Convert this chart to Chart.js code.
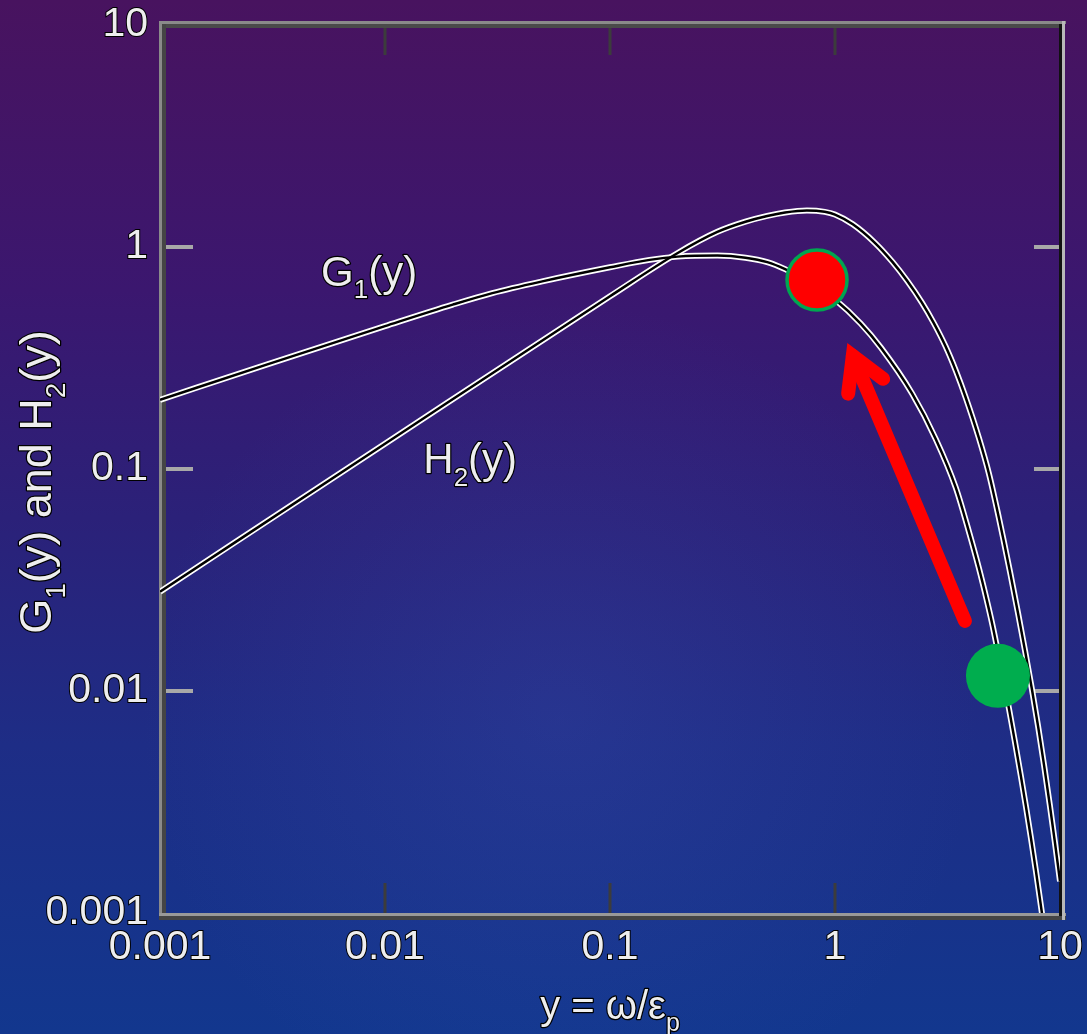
<!DOCTYPE html>
<html>
<head>
<meta charset="utf-8">
<script src="https://cdn.jsdelivr.net/npm/chart.js@4.4.1/dist/chart.umd.min.js"></script>
<style>
  html, body { margin: 0; padding: 0; width: 1087px; height: 1034px; overflow: hidden; background: #2a2178; }
  #c { display: block; }
</style>
</head>
<body>
<canvas id="c" width="1087" height="1034"></canvas>
<script>
// Axis decades
const xTickValues = [0.001, 0.01, 0.1, 1, 10];
const yTickValues = [0.001, 0.01, 0.1, 1, 10];

// G1(y)
const g1X = [0.001, 0.003, 0.01, 0.02, 0.03, 0.05, 0.1, 0.15, 0.2, 0.3, 0.4, 0.5, 0.6, 0.8, 1.0,
             1.3, 1.6, 2.2, 2.8, 3.44, 3.94, 4.36, 4.73, 5.0, 5.5, 5.93, 6.3, 6.7, 7.06, 7.43, 7.82, 8.3, 9.0, 10];
const g1Y = [0.205, 0.296, 0.44, 0.55, 0.62, 0.70, 0.81, 0.875, 0.905, 0.915, 0.895, 0.855, 0.795, 0.68, 0.58,
             0.452, 0.352, 0.219, 0.137, 0.0826, 0.0521, 0.0358, 0.0256, 0.0200, 0.0124, 0.00834, 0.00594, 0.00414, 0.00301, 0.00217, 0.00154, 0.00101, 0.000545, 0.000232];

// H2(y)
const h2X = [0.001, 0.01, 0.1, 0.2, 0.3, 0.4, 0.5, 0.6, 0.75, 0.9, 1.0, 1.2, 1.5, 1.8, 2.1, 2.43, 2.75,
             3.1, 3.45, 3.81, 4.36, 4.83, 5.35, 5.63, 6.0, 6.5, 7.0, 7.5, 8.0, 8.5, 9.0, 9.5, 10];
const h2Y = [0.028, 0.13, 0.60, 0.94, 1.17, 1.30, 1.38, 1.43, 1.46, 1.44, 1.40, 1.265, 1.047, 0.857, 0.701, 0.563, 0.454,
             0.357, 0.276, 0.210, 0.138, 0.0955, 0.0603, 0.0471, 0.0343, 0.0226, 0.0151, 0.0102, 0.00689, 0.00461, 0.00309, 0.00207, 0.00139];

// Highlighted points and the arrow between them
const peakPoint = [{ x: 0.832, y: 0.71 }];
const tailPoint = [{ x: 5.30, y: 0.0117 }];
const arrowFrom = { x: 3.78, y: 0.0207 };
const arrowTo = { x: 1.20, y: 0.323 };

const toXY = (xs, ys) => xs.map((x, i) => ({ x, y: ys[i] }));
const g1Data = toXY(g1X, g1Y);
const h2Data = toXY(h2X, h2Y);

const FONT = "'Liberation Sans', Arial, sans-serif";

function drawRich(ctx, parts, x, y, size, align) {
  const subSize = Math.round(size * 0.62);
  let total = 0;
  for (const p of parts) {
    ctx.font = (p.sub ? subSize : size) + 'px ' + FONT;
    total += ctx.measureText(p.t).width;
  }
  let cx = align === 'center' ? x - total / 2 : x;
  ctx.textAlign = 'left';
  ctx.textBaseline = 'alphabetic';
  ctx.lineJoin = 'round';
  for (const p of parts) {
    ctx.font = (p.sub ? subSize : size) + 'px ' + FONT;
    const dy = p.sub ? size * 0.3 : 0;
    ctx.lineWidth = 2.5;
    ctx.strokeStyle = '#000';
    ctx.strokeText(p.t, cx, y + dy);
    ctx.fillStyle = '#eeeeee';
    ctx.fillText(p.t, cx, y + dy);
    cx += ctx.measureText(p.t).width;
  }
}

const backdrop = {
  id: 'backdrop',
  beforeDraw(chart) {
    const { ctx, width, height } = chart;
    ctx.save();
    const g = ctx.createLinearGradient(0, 0, 0, height);
    g.addColorStop(0, '#48135f');
    g.addColorStop(0.28, '#3b176f');
    g.addColorStop(0.5, '#2b2179');
    g.addColorStop(0.72, '#1e2d86');
    g.addColorStop(1, '#12378e');
    ctx.fillStyle = g;
    ctx.fillRect(0, 0, width, height);
    const r = ctx.createRadialGradient(560, 720, 0, 560, 720, 420);
    r.addColorStop(0, 'rgba(70,90,190,0.2)');
    r.addColorStop(1, 'rgba(70,90,190,0)');
    ctx.fillStyle = r;
    ctx.fillRect(0, 0, width, height);
    ctx.restore();
  }
};

const frame = {
  id: 'frame',
  beforeDatasetsDraw(chart) {
    const { ctx, chartArea: a, scales } = chart;
    ctx.save();
    ctx.lineCap = 'butt';
    // inward ticks on top and bottom
    ctx.strokeStyle = '#3c3c3c';
    ctx.lineWidth = 3;
    for (const v of xTickValues) {
      const px = scales.x.getPixelForValue(v);
      if (px <= a.left + 2 || px >= a.right - 2) continue;
      ctx.beginPath();
      ctx.moveTo(px, a.top); ctx.lineTo(px, a.top + 30);
      ctx.moveTo(px, a.bottom); ctx.lineTo(px, a.bottom - 30);
      ctx.stroke();
    }
    // inward ticks on left and right
    ctx.strokeStyle = '#a8a8a8';
    ctx.lineWidth = 4;
    for (const v of yTickValues) {
      const py = scales.y.getPixelForValue(v);
      if (py <= a.top + 2 || py >= a.bottom - 2) continue;
      ctx.beginPath();
      ctx.moveTo(a.left, py); ctx.lineTo(a.left + 33, py);
      ctx.moveTo(a.right, py); ctx.lineTo(a.right - 26, py);
      ctx.stroke();
    }
    // two-tone box edges
    const L = a.left, R = a.right, T = a.top, B = a.bottom;
    ctx.fillStyle = '#8a8a8a';
    ctx.fillRect(L - 1, T - 4, R - L + 7, 3);       // top, light
    ctx.fillStyle = '#4a4a4a';
    ctx.fillRect(L - 1, T - 1, R - L + 1, 4);       // top, dark
    ctx.fillStyle = '#8a8a8a';
    ctx.fillRect(L - 1, T - 4, 3, B - T + 11);      // left, light
    ctx.fillStyle = '#454545';
    ctx.fillRect(L + 2, T - 1, 4, B - T + 1);       // left, dark
    ctx.fillStyle = '#999999';
    ctx.fillRect(L - 1, B, R - L + 7, 3);           // bottom, light
    ctx.fillStyle = '#444444';
    ctx.fillRect(L - 1, B + 3, R - L + 7, 4);       // bottom, dark
    ctx.fillStyle = '#111111';
    ctx.fillRect(R - 1, T - 1, 3, B - T + 4);       // right, dark
    ctx.fillStyle = '#b8b8b8';
    ctx.fillRect(R + 2, T - 4, 3, B - T + 11);      // right, light
    ctx.restore();
  }
};

const annotations = {
  id: 'annotations',
  afterDatasetsDraw(chart) {
    const { ctx, scales } = chart;
    const x = scales.x, y = scales.y;
    ctx.save();
    // arrow
    const x0 = x.getPixelForValue(arrowFrom.x), y0 = y.getPixelForValue(arrowFrom.y);
    const x1 = x.getPixelForValue(arrowTo.x), y1 = y.getPixelForValue(arrowTo.y);
    const ang = Math.atan2(y0 - y1, x0 - x1);
    const spread = 30 * Math.PI / 180, len = 38;
    ctx.strokeStyle = '#ff0000';
    ctx.lineWidth = 14;
    ctx.lineCap = 'round';
    ctx.lineJoin = 'miter';
    ctx.miterLimit = 10;
    ctx.beginPath();
    ctx.moveTo(x0, y0); ctx.lineTo(x1, y1);
    ctx.stroke();
    ctx.beginPath();
    ctx.moveTo(x1 + len * Math.cos(ang - spread), y1 + len * Math.sin(ang - spread));
    ctx.lineTo(x1, y1);
    ctx.lineTo(x1 + len * Math.cos(ang + spread), y1 + len * Math.sin(ang + spread));
    ctx.stroke();

    // curve labels
    drawRich(ctx, [{ t: 'G' }, { t: '1', sub: true }, { t: '(y)' }],
      x.getPixelForValue(0.0052), y.getPixelForValue(0.67), 42, 'left');
    drawRich(ctx, [{ t: 'H' }, { t: '2', sub: true }, { t: '(y)' }],
      x.getPixelForValue(0.0148), y.getPixelForValue(0.096), 42, 'left');
    ctx.restore();
  },
  afterDraw(chart) {
    const { ctx, chartArea: a } = chart;
    ctx.save();
    // x-axis title
    drawRich(ctx, [{ t: 'y = ω/ε' }, { t: 'p', sub: true }], (a.left + a.right) / 2, 1019, 40, 'center');
    // y-axis title
    ctx.translate(51, 482);
    ctx.rotate(-Math.PI / 2);
    drawRich(ctx, [{ t: 'G' }, { t: '1', sub: true }, { t: '(y) and H' }, { t: '2', sub: true }, { t: '(y)' }],
      0, 0, 45, 'center');
    ctx.restore();
  }
};

const tickFont = { family: FONT, size: 41 };

new Chart(document.getElementById('c'), {
  type: 'line',
  data: {
    datasets: [
      { label: 'G1 halo', data: g1Data, borderColor: '#ffffff', borderWidth: 6, pointRadius: 0, cubicInterpolationMode: 'monotone', order: 4 },
      { label: 'H2 halo', data: h2Data, borderColor: '#ffffff', borderWidth: 6, pointRadius: 0, cubicInterpolationMode: 'monotone', order: 4 },
      { label: 'G1(y)', data: g1Data, borderColor: '#000000', borderWidth: 2.5, pointRadius: 0, cubicInterpolationMode: 'monotone', order: 3 },
      { label: 'H2(y)', data: h2Data, borderColor: '#000000', borderWidth: 2.5, pointRadius: 0, cubicInterpolationMode: 'monotone', order: 3 },
      { label: 'peak', data: peakPoint, showLine: false, pointRadius: 30, pointBackgroundColor: '#ff0000', pointBorderColor: '#00a650', pointBorderWidth: 3.5, order: 1 },
      { label: 'tail', data: tailPoint, showLine: false, pointRadius: 32, pointBackgroundColor: '#00ad4e', pointBorderColor: '#00ad4e', pointBorderWidth: 0, order: 1 }
    ]
  },
  options: {
    responsive: false,
    animation: false,
    events: [],
    layout: { autoPadding: false, padding: { left: 0, right: 27, top: 25, bottom: 0 } },
    plugins: { legend: { display: false }, tooltip: { enabled: false } },
    scales: {
      x: {
        type: 'logarithmic', min: 0.001, max: 10,
        afterBuildTicks: s => { s.ticks = xTickValues.map(v => ({ value: v })); },
        afterFit: s => { s.height = 121; s.paddingLeft = 0; s.paddingRight = 0; },
        grid: { display: false, drawTicks: false },
        border: { display: false },
        ticks: {
          callback: v => String(v), autoSkip: false, maxRotation: 0,
          color: '#eeeeee', textStrokeColor: '#000', textStrokeWidth: 2,
          font: tickFont, padding: 10
        }
      },
      y: {
        type: 'logarithmic', min: 0.001, max: 10,
        afterBuildTicks: s => { s.ticks = yTickValues.map(v => ({ value: v })); },
        afterFit: s => { s.width = 160; s.paddingTop = 0; s.paddingBottom = 0; },
        grid: { display: false, drawTicks: false },
        border: { display: false },
        ticks: {
          callback: v => String(v), autoSkip: false,
          color: '#eeeeee', textStrokeColor: '#000', textStrokeWidth: 2,
          font: tickFont, padding: 12
        }
      }
    }
  },
  plugins: [backdrop, frame, annotations]
});
</script>
</body>
</html>
